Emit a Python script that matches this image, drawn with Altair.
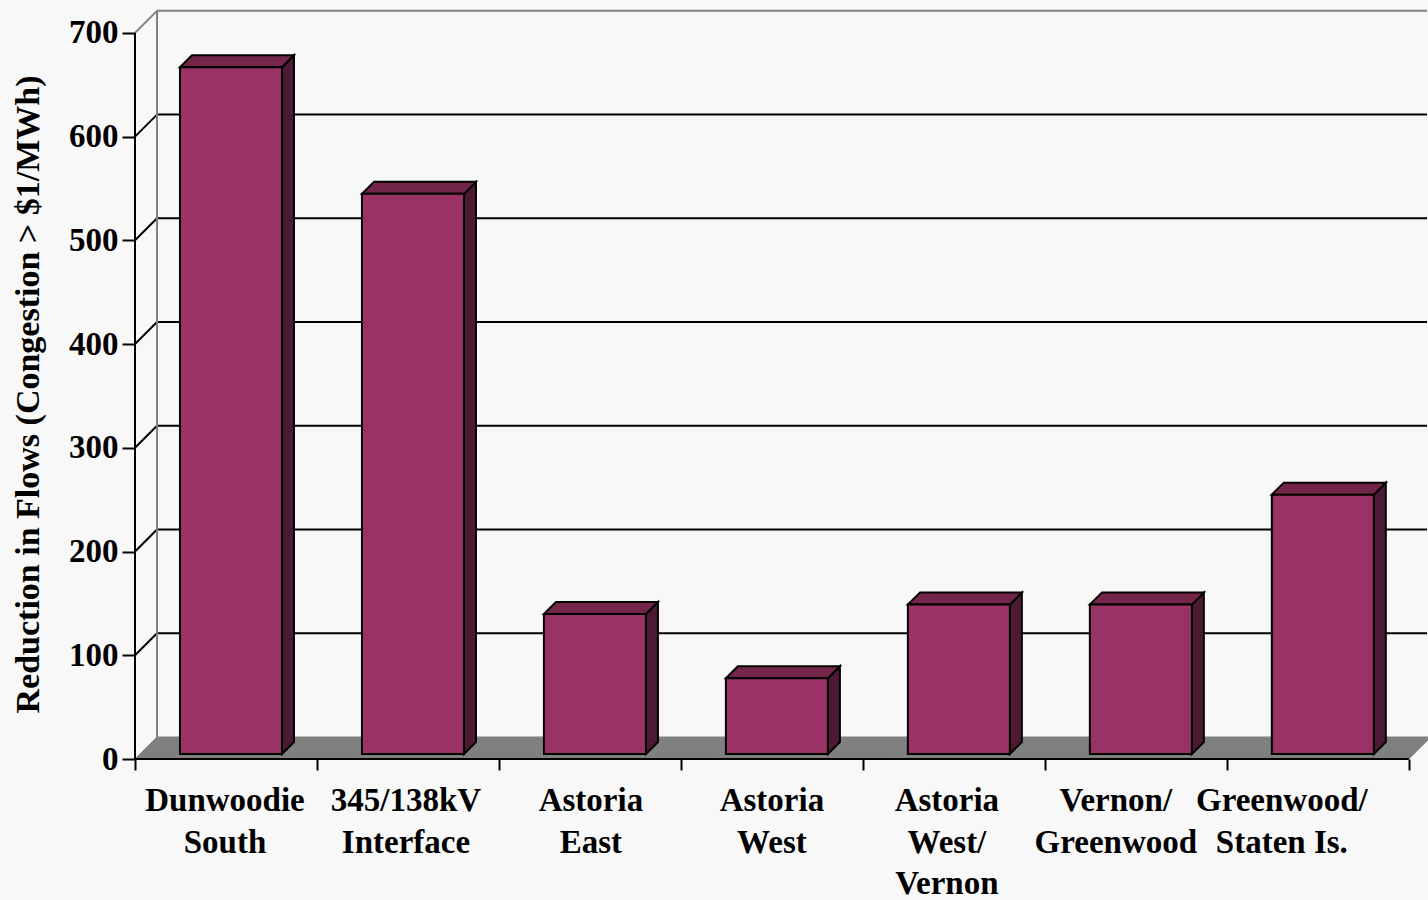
import altair as alt
import pandas as pd

# ---- data -------------------------------------------------------------
categories = [
    "Dunwoodie\nSouth",
    "345/138kV\nInterface",
    "Astoria\nEast",
    "Astoria\nWest",
    "Astoria\nWest/\nVernon",
    "Vernon/\nGreenwood",
    "Greenwood/\nStaten Is.",
]
flow_reduction = [662, 540, 135, 73, 144, 144, 250]
y_ticks = [0, 100, 200, 300, 400, 500, 600, 700]
gridlines = [100, 200, 300, 400, 500, 600]

# ---- layout (plot area in pixels, converted to scale units) ------------
W, H = 1292, 750
X_MAX, Y_MAX = 7.1, 723
N = len(categories)
px_x = X_MAX / W
px_y = Y_MAX / H

WALL_DX, WALL_DY = 22 * px_x, 22 * px_y      # depth of the back wall
BAR_OFF_X, BAR_OFF_Y = 5 * px_x, 5 * px_y    # bar front face depth
BAR_DX, BAR_DY = 12 * px_x, 12 * px_y        # bar thickness
BAR_W = 102 * px_x
LABEL_NUDGE_PX = [-1, -2, 1, 0, -7, -20, -36]

FONT = "Liberation Serif"
FRONT, TOP, SIDE = "#993366", "#732649", "#4d1a33"
FLOOR, WALL_EDGE, BG = "#808080", "#808080", "#f8f8f8"

XS = alt.Scale(domain=[0, X_MAX], nice=False, zero=False)
YS = alt.Scale(domain=[0, Y_MAX], nice=False, zero=False)

X_AXIS = alt.Axis(
    values=list(range(N + 1)), labels=False, ticks=True, tickSize=11,
    tickWidth=2, tickColor="black", domain=False, grid=False, title=None,
)
Y_AXIS = alt.Axis(
    values=y_ticks, domain=False, grid=False, ticks=True, tickSize=13,
    tickWidth=2, tickColor="black", labelFont=FONT, labelFontSize=33,
    labelFontWeight="bold", labelColor="black", labelPadding=4,
    title="Reduction in Flows (Congestion > $1/MWh)", titleFont=FONT,
    titleFontSize=34, titleFontWeight="bold", titleColor="black",
    titleAngle=270, titleX=-97, titleY=385, titleAlign="center",
    titleBaseline="alphabetic",
)


def X(field):
    return alt.X(f"{field}:Q", scale=XS, axis=X_AXIS, stack=None)


def Y(field):
    return alt.Y(f"{field}:Q", scale=YS, axis=Y_AXIS, stack=None)


# ---- geometry tables built from the data -------------------------------
front_rows, top_rows, side_rows = [], [], []
for i, v in enumerate(flow_reduction):
    x0 = i + (1 - BAR_W) / 2 + BAR_OFF_X
    x1 = x0 + BAR_W
    y0 = BAR_OFF_Y
    y1 = v + BAR_OFF_Y
    front_rows.append({"bar": i, "x0": x0, "x1": x1, "y0": y0, "y1": y1})
    top_rows += [
        {"bar": i, "y": y1, "xa": x0, "xb": x1},
        {"bar": i, "y": y1 + BAR_DY, "xa": x0 + BAR_DX, "xb": x1 + BAR_DX},
    ]
    side_rows += [
        {"bar": i, "x": x1, "ya": y1, "yb": y0},
        {"bar": i, "x": x1 + BAR_DX, "ya": y1 + BAR_DY, "yb": y0 + BAR_DY},
    ]

floor_df = pd.DataFrame([
    {"y": 0, "xa": 0, "xb": N},
    {"y": WALL_DY, "xa": WALL_DX, "xb": N + WALL_DX},
])

grid_rows = []
for g in gridlines:
    grid_rows.append({"x": WALL_DX, "x2": X_MAX, "y": g + WALL_DY, "y2": g + WALL_DY})
    grid_rows.append({"x": 0, "x2": WALL_DX, "y": g, "y2": g + WALL_DY})

top_val = y_ticks[-1]
wall_rows = [
    {"x": WALL_DX, "x2": WALL_DX, "y": WALL_DY, "y2": top_val + WALL_DY},
    {"x": WALL_DX, "x2": X_MAX, "y": top_val + WALL_DY, "y2": top_val + WALL_DY},
    {"x": 0, "x2": WALL_DX, "y": top_val, "y2": top_val + WALL_DY},
]

axis_rows = [
    {"x": 0, "x2": 0, "y": 0, "y2": top_val},
    {"x": 0, "x2": N, "y": 0, "y2": 0},
]

label_df = pd.DataFrame({
    "label": categories,
    "x": [i + 0.5 + LABEL_NUDGE_PX[i] * px_x for i in range(N)],
    "y": [0] * N,
})


def segs(rows, color, width):
    return alt.Chart(pd.DataFrame(rows)).mark_rule(
        color=color, strokeWidth=width
    ).encode(x=X("x"), x2="x2:Q", y=Y("y"), y2="y2:Q")


floor = alt.Chart(floor_df).mark_area(
    orient="horizontal", color=FLOOR, stroke=FLOOR, strokeWidth=1
).encode(y=Y("y"), x=X("xa"), x2="xb:Q")

grid = segs(grid_rows, "black", 2)
wall = segs(wall_rows, WALL_EDGE, 2)

side = alt.Chart(pd.DataFrame(side_rows)).mark_area(
    orient="vertical", color=SIDE, stroke="black", strokeWidth=2,
    strokeJoin="miter",
).encode(x=X("x"), y=Y("ya"), y2="yb:Q", detail="bar:N")

top = alt.Chart(pd.DataFrame(top_rows)).mark_area(
    orient="horizontal", color=TOP, stroke="black", strokeWidth=2,
    strokeJoin="miter",
).encode(y=Y("y"), x=X("xa"), x2="xb:Q", detail="bar:N")

front = alt.Chart(pd.DataFrame(front_rows)).mark_rect(
    color=FRONT, stroke="black", strokeWidth=2
).encode(x=X("x0"), x2="x1:Q", y=Y("y0"), y2="y1:Q")

axes = segs(axis_rows, "black", 2)

labels = alt.Chart(label_df).mark_text(
    font=FONT, fontSize=33, fontWeight="bold", color="black",
    align="center", baseline="alphabetic", dy=52, lineBreak="\n",
    lineHeight=41.5,
).encode(x=X("x"), y=Y("y"), text="label:N")

chart = alt.layer(
    floor, grid, wall, side, top, front, axes, labels
).properties(
    width=W,
    height=H,
    background=BG,
    padding={"left": 135, "top": 9, "right": 1, "bottom": 141},
    autosize=alt.AutoSizeParams(type="none"),
).configure_view(stroke=None)

chart.save("out.html", embed_options={"renderer": "svg", "actions": False})
